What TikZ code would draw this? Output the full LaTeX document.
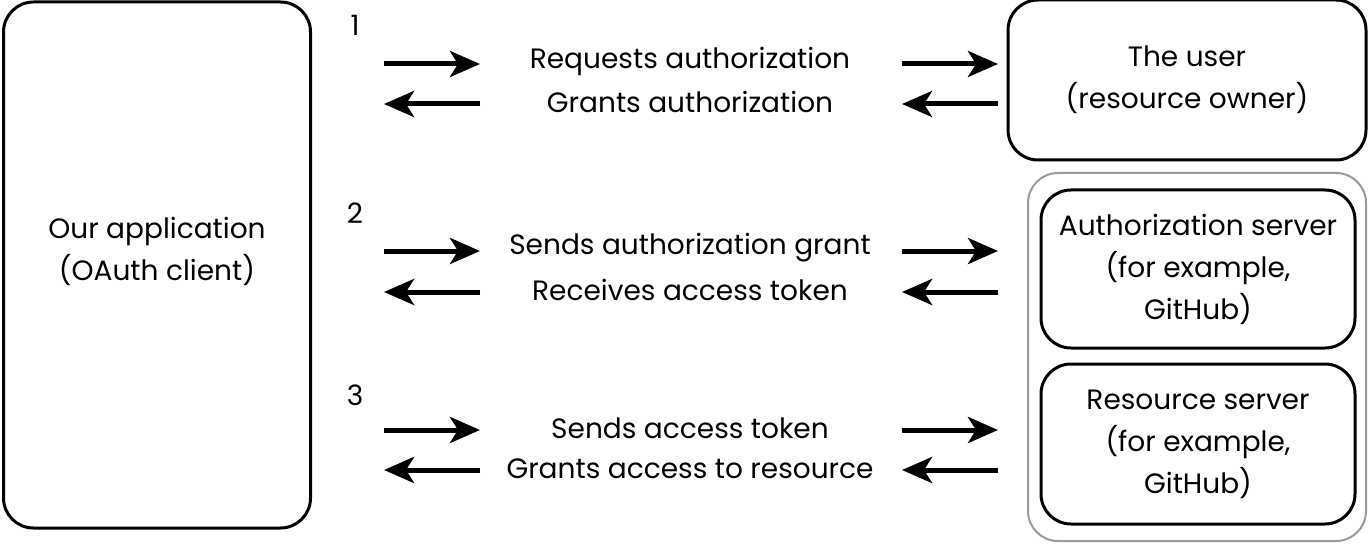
\documentclass[tikz,border=0pt]{standalone}
\usepackage{fontspec}
\setmainfont{Poppins}
\usepackage{tikz}
\usetikzlibrary{
  arrows.meta,
  positioning,
  calc
}

\begin{document}
\begin{tikzpicture}[
  x=0.5pt, y=-0.5pt,
  every node/.style={font=\fontsize{14}{21}\selectfont, inner sep=0pt},
  box/.style={draw, line width=1.5pt, rounded corners=15pt, align=center},
  group/.style={draw=black!40, line width=1pt, rounded corners=15pt},
  arrow/.style={-{Stealth[length=15pt, width=13pt, inset=4pt]}, line width=2.5pt}
]
\useasboundingbox (0,0) rectangle (1369,545);

% the three parties
\node[box, minimum width=153.5pt, minimum height=263pt,
  label={[align=center, yshift=7pt]center:Our application\\(OAuth client)}] (app) at (157,265) {};
\node[box, minimum width=179pt, minimum height=80pt] (user) at (1187,80)
  {The user\\(resource owner)};
\node[group, minimum width=169pt, minimum height=184pt] (servers) at (1197,357) {};
\node[box, minimum width=157pt, minimum height=79pt] (auth) at (1198,269)
  {Authorization server\\(for example,\\GitHub)};
\node[box, minimum width=157pt, minimum height=80pt] (res) at (1198,444)
  {Resource server\\(for example,\\GitHub)};

% steps
\node (n1) at (355,25) {1};
\node (n2) at (355,213) {2};
\node (n3) at (355,395) {3};

\node (req1) at (690,61) {Requests authorization};
\node (ans1) at (690,102) {Grants authorization};
\node (req2) at (690,248) {Sends authorization grant};
\node (ans2) at (690,290) {Receives access token};
\node (req3) at (690,428) {Sends access token};
\node (ans3) at (690,469) {Grants access to resource};

\foreach \r/\ya/\yb in {1/64/104, 2/251/292, 3/430/470} {
  \path (384,\ya) coordinate (s\r) (480,\ya) coordinate (t\r)
        (902,\ya) coordinate (u\r) (998,\ya) coordinate (v\r)
        (384,\yb) coordinate (sb\r) (480,\yb) coordinate (tb\r)
        (902,\yb) coordinate (ub\r) (998,\yb) coordinate (vb\r);
  \draw[arrow] (s\r) -- (t\r);
  \draw[arrow] (u\r) -- (v\r);
  \draw[arrow] (tb\r) -- (sb\r);
  \draw[arrow] (vb\r) -- (ub\r);
}
\end{tikzpicture}
\end{document}
